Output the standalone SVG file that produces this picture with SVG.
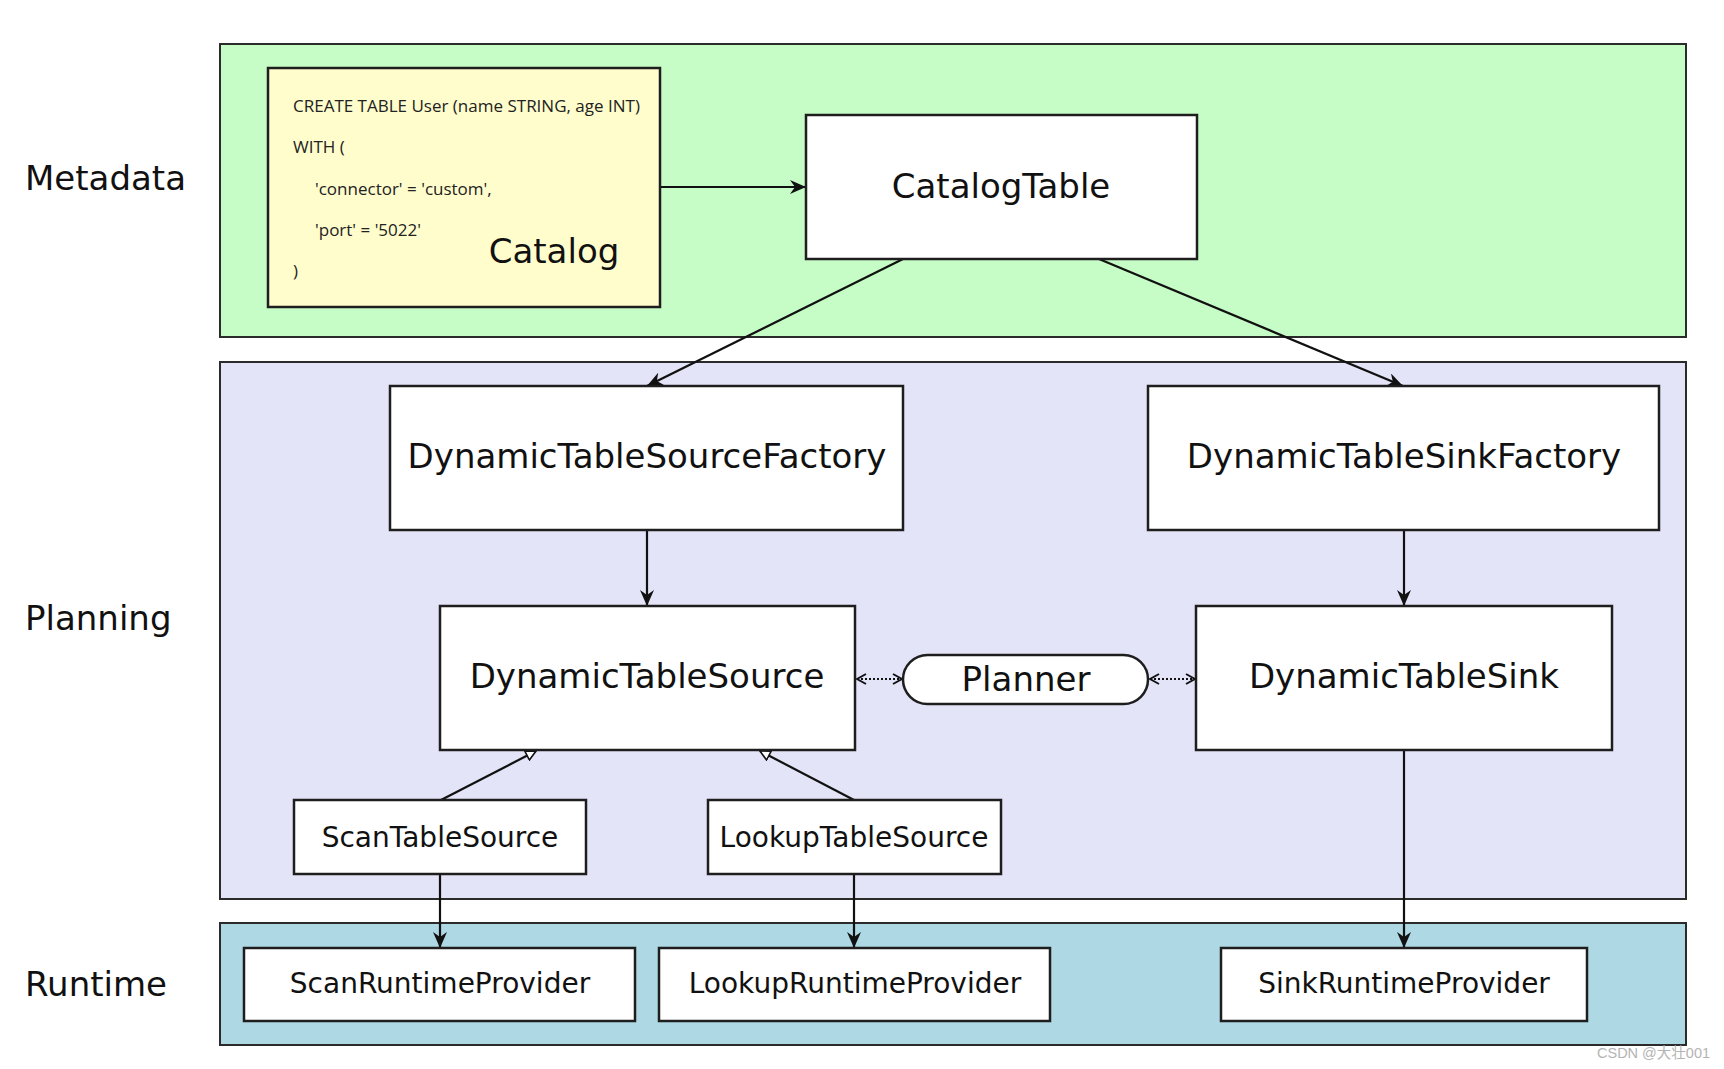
<svg xmlns="http://www.w3.org/2000/svg" width="1724" height="1069" viewBox="0 0 1724 1069">
<style>
.band{stroke:#2b2b2b;stroke-width:2}
.box{fill:#ffffff;stroke:#1e1e1e;stroke-width:2.5}
.lbl{font-family:"DejaVu Sans",sans-serif;fill:#111;text-anchor:middle}
.big{font-size:34px}
.sm{font-size:28px}
.side{font-family:"DejaVu Sans",sans-serif;font-size:34px;fill:#111}
.code{font-family:"Open Sans","Noto Sans",sans-serif;font-size:17px;fill:#222}
.edge{stroke:#111;stroke-width:2.2;fill:none}
.dot{stroke:#111;stroke-width:2.2;fill:none;stroke-dasharray:2,2}
</style>
<defs>
<marker id="arr" viewBox="0 0 16 14" refX="16" refY="7" markerWidth="16" markerHeight="14" markerUnits="userSpaceOnUse" orient="auto">
<path d="M0,0 L16,7 L0,14 L5,7 Z" fill="#111"/>
</marker>
<marker id="vee" viewBox="0 0 11 12" refX="10" refY="6" markerWidth="11" markerHeight="12" markerUnits="userSpaceOnUse" orient="auto-start-reverse">
<path d="M1,1 L10,6 L1,11" fill="none" stroke="#111" stroke-width="2"/>
</marker>
<marker id="tri" viewBox="0 0 12 12" refX="11" refY="6" markerWidth="12" markerHeight="12" markerUnits="userSpaceOnUse" orient="auto">
<path d="M1,1 L11,6 L1,11 Z" fill="#fff" stroke="#111" stroke-width="1.6"/>
</marker>
</defs>
<rect width="1724" height="1069" fill="#ffffff"/>

<g id="bands">
<rect class="band" x="220" y="44" width="1466" height="293" fill="#c6fdc6"/>
<rect class="band" x="220" y="362" width="1466" height="537" fill="#e4e4f8"/>
<rect class="band" x="220" y="923" width="1466" height="122" fill="#add8e4"/>
<text class="side" x="25" y="190">Metadata</text>
<text class="side" x="25" y="630">Planning</text>
<text class="side" x="25" y="996">Runtime</text>
</g>

<g id="connectors">
<line class="edge" x1="660" y1="187" x2="806" y2="187" marker-end="url(#arr)"/>
<line class="edge" x1="903" y1="259" x2="647" y2="386" marker-end="url(#arr)"/>
<line class="edge" x1="1099" y1="259" x2="1403" y2="386" marker-end="url(#arr)"/>
<line class="edge" x1="647" y1="530" x2="647" y2="606" marker-end="url(#arr)"/>
<line class="edge" x1="1404" y1="530" x2="1404" y2="606" marker-end="url(#arr)"/>
<line class="dot" x1="857" y1="679" x2="902" y2="679" marker-start="url(#vee)" marker-end="url(#vee)"/>
<line class="dot" x1="1150" y1="679" x2="1195" y2="679" marker-start="url(#vee)" marker-end="url(#vee)"/>
<line class="edge" x1="441" y1="800" x2="536" y2="751" marker-end="url(#tri)"/>
<line class="edge" x1="854" y1="800" x2="760" y2="751" marker-end="url(#tri)"/>
<line class="edge" x1="440" y1="874" x2="440" y2="948" marker-end="url(#arr)"/>
<line class="edge" x1="854" y1="874" x2="854" y2="948" marker-end="url(#arr)"/>
<line class="edge" x1="1404" y1="750" x2="1404" y2="948" marker-end="url(#arr)"/>
</g>

<g id="catalog">
<rect x="268" y="68" width="392" height="239" fill="#fffdcc" stroke="#1e1e1e" stroke-width="2.5"/>
<text class="code" x="293" y="112">CREATE TABLE User (name STRING, age INT)</text>
<text class="code" x="293" y="153">WITH (</text>
<text class="code" x="315" y="195">'connector' = 'custom',</text>
<text class="code" x="315" y="236">'port' = '5022'</text>
<text class="code" x="293" y="277">)</text>
<text class="lbl" x="554" y="263" style="font-size:34px">Catalog</text>
</g>

<g id="catalogTable">
<rect class="box" x="806" y="115" width="391" height="144"/>
<text class="lbl big" x="1001" y="198">CatalogTable</text>
</g>

<g id="dynamicTableSourceFactory">
<rect class="box" x="390" y="386" width="513" height="144"/>
<text class="lbl big" x="647" y="468">DynamicTableSourceFactory</text>
</g>

<g id="dynamicTableSinkFactory">
<rect class="box" x="1148" y="386" width="511" height="144"/>
<text class="lbl big" x="1404" y="468">DynamicTableSinkFactory</text>
</g>

<g id="dynamicTableSource">
<rect class="box" x="440" y="606" width="415" height="144"/>
<text class="lbl big" x="647" y="688">DynamicTableSource</text>
</g>

<g id="planner">
<rect class="box" x="903" y="655" width="245" height="49" rx="24.5" ry="24.5"/>
<text class="lbl big" x="1026" y="691">Planner</text>
</g>

<g id="dynamicTableSink">
<rect class="box" x="1196" y="606" width="416" height="144"/>
<text class="lbl big" x="1404" y="688">DynamicTableSink</text>
</g>

<g id="scanTableSource">
<rect class="box" x="294" y="800" width="292" height="74"/>
<text class="lbl sm" x="440" y="847">ScanTableSource</text>
</g>

<g id="lookupTableSource">
<rect class="box" x="708" y="800" width="293" height="74"/>
<text class="lbl sm" x="854" y="847">LookupTableSource</text>
</g>

<g id="scanRuntimeProvider">
<rect class="box" x="244" y="948" width="391" height="73"/>
<text class="lbl sm" x="440" y="993">ScanRuntimeProvider</text>
</g>

<g id="lookupRuntimeProvider">
<rect class="box" x="659" y="948" width="391" height="73"/>
<text class="lbl sm" x="855" y="993">LookupRuntimeProvider</text>
</g>

<g id="sinkRuntimeProvider">
<rect class="box" x="1221" y="948" width="366" height="73"/>
<text class="lbl sm" x="1404" y="993">SinkRuntimeProvider</text>
</g>

<text x="1597" y="1058" style="font-family:'Liberation Sans','Noto Sans CJK SC',sans-serif;font-size:14.5px;fill:#b4b4b4">CSDN @大壮001</text>
</svg>
